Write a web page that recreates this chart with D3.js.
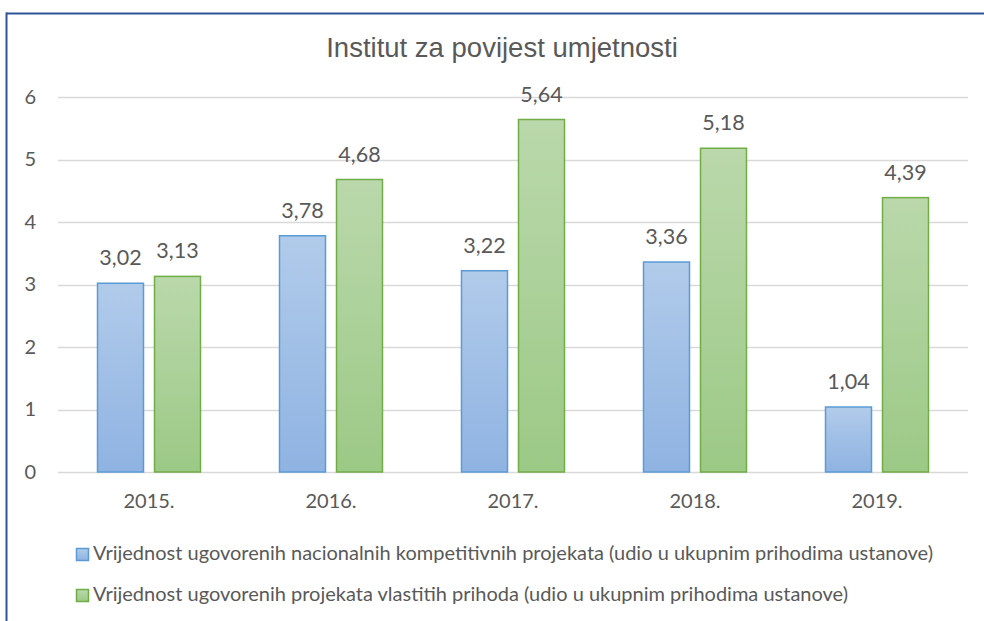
<!DOCTYPE html>
<html>
<head>
<meta charset="utf-8">
<script src="https://cdn.jsdelivr.net/npm/d3@7"></script>
<style>
  body { margin: 0; background: #fff; }
  svg { display: block; }
</style>
</head>
<body>
<svg id="chart" width="984" height="621"></svg>
<script>
const years = ['2015.', '2016.', '2017.', '2018.', '2019.']
const nacionalni = [3.02, 3.78, 3.22, 3.36, 1.04]
const vlastiti = [3.13, 4.68, 5.64, 5.18, 4.39]
const yTicks = [0, 1, 2, 3, 4, 5, 6]
const seriesNames = [
  'Vrijednost ugovorenih nacionalnih kompetitivnih projekata (udio u ukupnim prihodima ustanove)',
  'Vrijednost ugovorenih projekata vlastitih prihoda (udio u ukupnim prihodima ustanove)'
]
const chartTitle = 'Institut za povijest umjetnosti'

const TEXT_COLOR = '#595959'
const LABEL_FONT = 'Lato, "Open Sans", sans-serif'

const svg = d3.select('#chart')

// frame (only top and left edges visible)
svg.append('line').attr('x1', 6).attr('x2', 984).attr('y1', 13.5).attr('y2', 13.5)
  .attr('stroke', '#2f5597').attr('stroke-width', 2)
svg.append('line').attr('x1', 6.5).attr('x2', 6.5).attr('y1', 12.5).attr('y2', 621)
  .attr('stroke', '#2f5597').attr('stroke-width', 2)

const defs = svg.append('defs')
const gradients = [
  { id: 'grad-blue', top: '#b1cbea', bottom: '#8fb3e2' },
  { id: 'grad-green', top: '#bad8ab', bottom: '#9cc986' }
]
gradients.forEach(g => {
  const lg = defs.append('linearGradient').attr('id', g.id)
    .attr('x1', 0).attr('y1', 0).attr('x2', 0).attr('y2', 1)
  lg.append('stop').attr('offset', '0%').attr('stop-color', g.top)
  lg.append('stop').attr('offset', '100%').attr('stop-color', g.bottom)
})

const series = [
  { key: 'nac', values: nacionalni, fill: 'url(#grad-blue)', stroke: '#5b9bd5' },
  { key: 'vla', values: vlastiti, fill: 'url(#grad-green)', stroke: '#70ad47' }
]

const plot = { left: 58, right: 968, top: 97, bottom: 472 }

const x = d3.scaleBand().domain(years).range([plot.left, plot.right])
// two bars of 47px with a 10px gap, centred in each 182px band
const xInner = d3.scaleBand().domain(series.map(s => s.key))
  .range([39, 143]).paddingInner(10 / 57).paddingOuter(0)
const y = d3.scaleLinear().domain([0, 6]).range([plot.bottom, plot.top])

// title
svg.append('text')
  .attr('x', 502).attr('y', 57)
  .attr('text-anchor', 'middle')
  .attr('font-family', '"Liberation Sans", Arial, sans-serif')
  .attr('font-size', 27.5)
  .attr('fill', TEXT_COLOR)
  .text(chartTitle)

// gridlines
svg.append('g')
  .selectAll('line')
  .data(yTicks)
  .join('line')
  .attr('x1', plot.left).attr('x2', plot.right)
  .attr('y1', d => Math.round(y(d)) + 0.5).attr('y2', d => Math.round(y(d)) + 0.5)
  .attr('stroke', '#d9d9d9').attr('stroke-width', 1.5)

// y axis labels
const yAxis = d3.axisLeft(y).tickValues(yTicks).tickSize(0).tickPadding(0)
  .tickFormat(d3.format('d'))
const yG = svg.append('g').attr('transform', `translate(36,0)`).call(yAxis)
yG.select('.domain').remove()
yG.selectAll('text')
  .attr('font-family', LABEL_FONT).attr('font-size', 20).attr('fill', TEXT_COLOR)

// x axis labels
const xAxis = d3.axisBottom(x).tickSize(0).tickPadding(0)
const xG = svg.append('g').attr('transform', `translate(0,${plot.bottom + 22})`).call(xAxis)
xG.select('.domain').remove()
xG.selectAll('text')
  .attr('font-family', LABEL_FONT).attr('font-size', 20).attr('fill', TEXT_COLOR)

// bars
const groups = svg.append('g')
  .selectAll('g')
  .data(series)
  .join('g')

groups.each(function (s) {
  const g = d3.select(this)
  const data = s.values.map((v, i) => ({ year: years[i], value: v }))
  g.selectAll('rect')
    .data(data)
    .join('rect')
    .attr('x', d => x(d.year) + xInner(s.key) + 0.5)
    .attr('y', d => y(d.value))
    .attr('width', xInner.bandwidth() - 1)
    .attr('height', d => plot.bottom - y(d.value))
    .attr('fill', s.fill)
    .attr('stroke', s.stroke)
    .attr('stroke-width', 1.5)

  g.selectAll('text')
    .data(data)
    .join('text')
    .attr('x', d => x(d.year) + xInner(s.key) + xInner.bandwidth() / 2)
    .attr('y', d => y(d.value) - 18)
    .attr('text-anchor', 'middle')
    .attr('font-family', LABEL_FONT)
    .attr('font-size', 21.5)
    .attr('fill', TEXT_COLOR)
    .text(d => d3.format('.2f')(d.value).replace('.', ','))
})

// legend
const legend = svg.append('g')
  .selectAll('g')
  .data(series)
  .join('g')
  .attr('transform', (d, i) => `translate(76,${548 + i * 41})`)

legend.append('rect')
  .attr('x', 0.5).attr('y', 0.5)
  .attr('width', 12).attr('height', 12)
  .attr('fill', d => d.fill)
  .attr('stroke', d => d.stroke)
  .attr('stroke-width', 1.5)

legend.append('text')
  .attr('x', 17).attr('y', 12)
  .attr('font-family', LABEL_FONT)
  .attr('font-size', 20)
  .attr('fill', TEXT_COLOR)
  .text((d, i) => seriesNames[i])
</script>
</body>
</html>
